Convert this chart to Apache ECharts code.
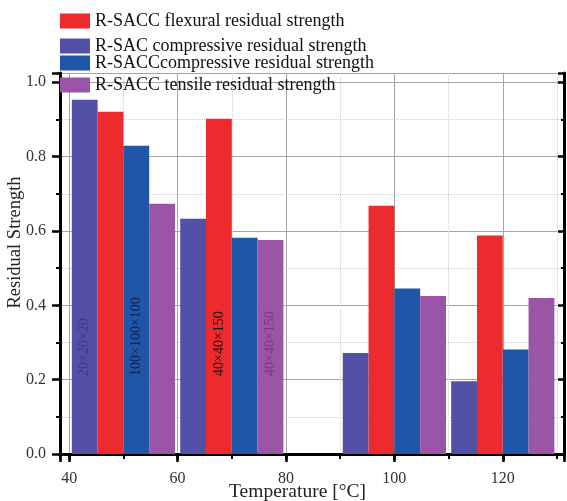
<!DOCTYPE html>
<html>
<head>
<meta charset="utf-8">
<script src="https://cdn.jsdelivr.net/npm/echarts@6/dist/echarts.min.js"></script>
<style>
html,body{margin:0;padding:0;background:#fff;}
#chart{width:567px;height:501px;}
</style>
</head>
<body>
<div id="chart"></div>
<script>
// ---- data ----
var temperatures = [50, 70, 100, 120];
var sacCompressive = [0.953, 0.633, 0.272, 0.196];
var saccFlexural = [0.921, 0.902, 0.668, 0.588];
var saccCompressive = [0.829, 0.582, 0.445, 0.281];
var saccTensile = [0.673, 0.576, 0.425, 0.420];
var sacCompressiveLabels = ['20×20×20', '', '', ''];
var saccFlexuralLabels = ['', '40×40×150', '', ''];
var saccCompressiveLabels = ['100×100×100', '', '', ''];
var saccTensileLabels = ['', '40×40×150', '', ''];
var seriesNames = [
  'R-SACC flexural residual strength',
  'R-SAC compressive residual strength',
  'R-SACCcompressive residual strength',
  'R-SACC tensile residual strength'
];

var SERIF = '"Liberation Serif", "Times New Roman", serif';
var chart = echarts.init(document.getElementById('chart'), null, {renderer: 'canvas'});

function pairs(vals) { return temperatures.map(function (t, i) { return [t, vals[i]]; }); }
function barSeries(name, vals, labels, color, labelColor) {
  return {
    name: name, type: 'bar', data: pairs(vals),
    barWidth: 25.8, barGap: '0%',
    itemStyle: {color: color},
    label: {
      show: true, position: 'insideBottom', distance: 78, rotate: 90,
      align: 'left', verticalAlign: 'middle',
      fontFamily: SERIF, fontSize: 14, color: labelColor,
      formatter: function (p) { return labels[p.dataIndex]; }
    }
  };
}

var legendTops = [12, 37, 54, 76];
var legends = seriesNames.map(function (n, i) {
  return {
    data: [n], left: 60, top: legendTops[i], padding: 0,
    itemWidth: 30, itemHeight: 15, icon: 'rect', selectedMode: false,
    textStyle: {fontFamily: SERIF, fontSize: 18, color: '#111'}
  };
});

var xMin = 38.3, xMax = 131.3, yMin = 0, yMax = 1.025;
var majorSplit = {show: true, lineStyle: {color: '#a5a5a5', width: 1}};
var minorSplit = {show: true, lineStyle: {color: '#cfcfcf', width: 1, type: 'dotted'}};

var option = {
  animation: false,
  backgroundColor: '#fff',
  legend: legends,
  grid: {left: 60, right: 3, top: 73, bottom: 47, containLabel: false, outerBoundsMode: 'none'},
  xAxis: [{
    type: 'value', min: xMin, max: xMax, splitNumber: 5, position: 'bottom',
    name: 'Temperature [°C]', nameLocation: 'middle', nameGap: 28, nameMoveOverlap: false,
    nameTextStyle: {fontFamily: SERIF, fontSize: 19.5, color: '#222', padding: [0, 29, 0, 0]},
    axisLine: {show: true, lineStyle: {color: '#000', width: 3}},
    axisTick: {show: true, inside: false, length: 8, lineStyle: {color: '#000', width: 2.5}},
    minorTick: {show: true, splitNumber: 2, length: 5, lineStyle: {color: '#000', width: 2}},
    axisLabel: {showMinLabel: false, showMaxLabel: false, margin: 17, fontFamily: SERIF, fontSize: 16, color: '#333'},
    splitLine: majorSplit, minorSplitLine: minorSplit
  }, {
    type: 'value', min: xMin, max: xMax, splitNumber: 5, position: 'top',
    axisLine: {show: true, lineStyle: {color: '#000', width: 3}},
    axisTick: {show: true, inside: true, length: 6, lineStyle: {color: '#000', width: 2.5}},
    minorTick: {show: true, splitNumber: 2, length: 3, lineStyle: {color: '#000', width: 2}},
    axisLabel: {show: false}, splitLine: {show: false}
  }],
  yAxis: [{
    type: 'value', min: yMin, max: yMax, interval: 0.2, position: 'left',
    name: 'Residual Strength', nameLocation: 'middle', nameGap: 35, nameMoveOverlap: false,
    nameTextStyle: {fontFamily: SERIF, fontSize: 18.5, color: '#222', padding: [0, 0, 0, 42]},
    axisLine: {show: true, lineStyle: {color: '#000', width: 3}},
    axisTick: {show: true, inside: false, length: 8, lineStyle: {color: '#000', width: 2.5}},
    minorTick: {show: true, splitNumber: 2, length: 4, lineStyle: {color: '#000', width: 2}},
    axisLabel: {showMaxLabel: false, margin: 14, fontFamily: SERIF, fontSize: 16, color: '#333',
      formatter: function (v) { return v.toFixed(1); }},
    splitLine: majorSplit, minorSplitLine: minorSplit
  }, {
    type: 'value', min: yMin, max: yMax, interval: 0.2, position: 'right',
    axisLine: {show: true, lineStyle: {color: '#000', width: 3}},
    axisTick: {show: true, inside: true, length: 6, lineStyle: {color: '#000', width: 2.5}},
    minorTick: {show: true, splitNumber: 2, length: 3, lineStyle: {color: '#000', width: 2}},
    axisLabel: {show: false}, splitLine: {show: false}
  }],
  series: [
    barSeries(seriesNames[1], sacCompressive, sacCompressiveLabels, '#5351a6', '#3e3590'),
    barSeries(seriesNames[0], saccFlexural, saccFlexuralLabels, '#ed2a2e', '#1a0a0a'),
    barSeries(seriesNames[2], saccCompressive, saccCompressiveLabels, '#1f56a8', '#14224f'),
    barSeries(seriesNames[3], saccTensile, saccTensileLabels, '#9b55a6', '#7a3494')
  ]
};
chart.setOption(option);
</script>
</body>
</html>
